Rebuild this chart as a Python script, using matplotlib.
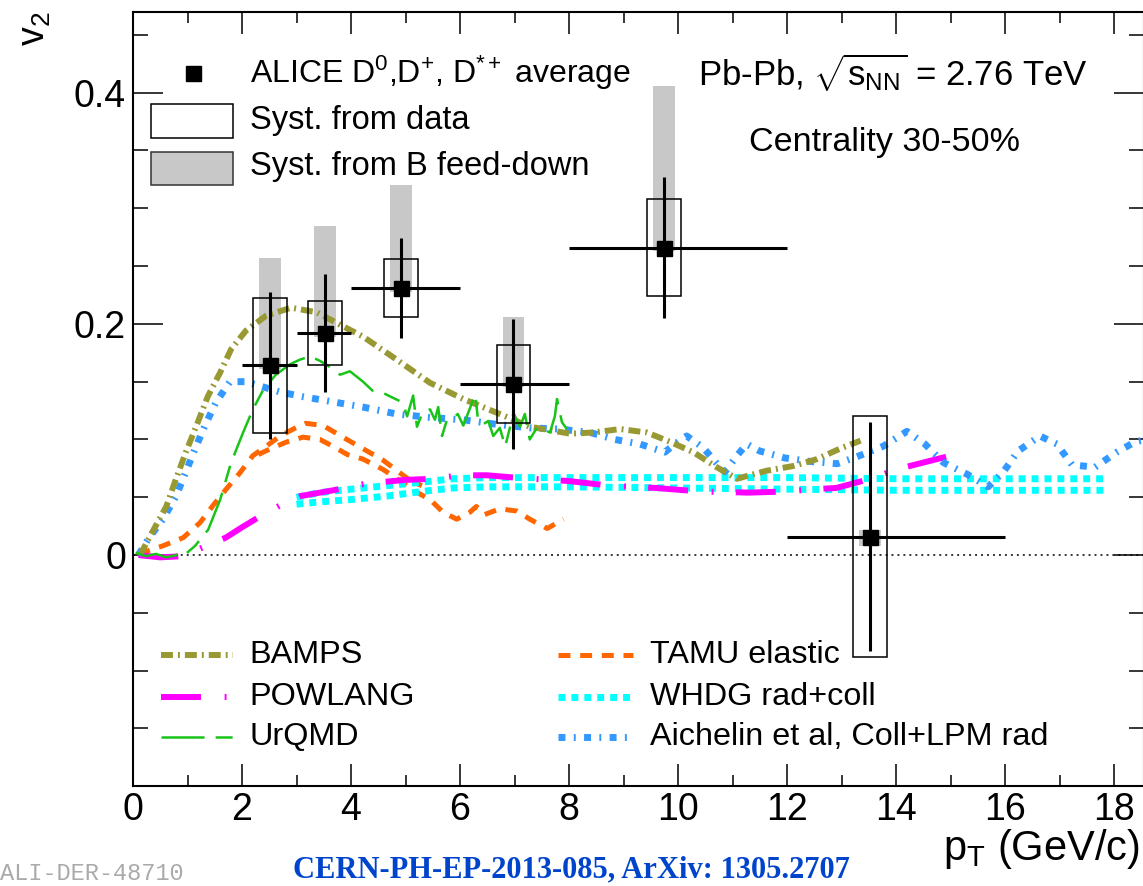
import matplotlib
matplotlib.use('Agg')
import matplotlib.pyplot as plt
from matplotlib.patches import Rectangle
from matplotlib.lines import Line2D
from matplotlib.ticker import MultipleLocator

plt.rcParams['font.family'] = ['Liberation Sans', 'DejaVu Sans']
plt.rcParams['mathtext.fontset'] = 'custom'
plt.rcParams['mathtext.rm'] = 'Liberation Sans'
plt.rcParams['mathtext.it'] = 'Liberation Sans'
plt.rcParams['mathtext.bf'] = 'Liberation Sans:bold'
plt.rcParams['lines.scale_dashes'] = False

# ---------------- data ----------------
pt = [2.51, 3.52, 4.92, 6.98, 9.74, 13.52]
pt_lo = [2, 3, 4, 6, 8, 12]
pt_hi = [3, 4, 6, 8, 12, 16]
v2 = [0.164, 0.192, 0.231, 0.148, 0.266, 0.016]
stat = [0.064, 0.051, 0.043, 0.056, 0.061, 0.099]
syst_data = [0.058, 0.028, 0.025, 0.034, 0.042, 0.104]
fd_up = [0.093, 0.093, 0.089, 0.058, 0.140, 0.006]
fd_lo = [0.003, 0.003, 0.003, 0.003, 0.003, 0.008]

bamps_pt = [0.13, 0.31, 0.61, 0.79, 0.97, 1.19, 1.37, 1.6, 1.8, 2.07, 2.44, 2.9, 3.37, 3.85,
            4.22, 4.84, 5.45, 6.06, 6.68, 7.28, 8.02, 8.44, 8.94, 9.43, 9.85, 10.28, 10.71,
            11.08, 11.63, 12.11, 12.55, 12.97, 13.35]
bamps_v2 = [0.0, 0.016, 0.042, 0.066, 0.089, 0.115, 0.137, 0.158, 0.178, 0.194, 0.207, 0.214,
            0.210, 0.198, 0.189, 0.169, 0.149, 0.135, 0.123, 0.111, 0.105, 0.106, 0.109, 0.106,
            0.098, 0.089, 0.076, 0.066, 0.073, 0.077, 0.083, 0.092, 0.099]

powlang_pt = [0.1, 0.5, 0.9, 1.3, 1.7, 2.0, 2.35, 2.74, 3.07, 3.67, 4.3, 5.0, 5.5, 6.0, 6.5,
              7.0, 8.0, 8.75, 9.6, 10.4, 11.3, 12.0, 12.5, 12.9, 13.3, 13.6, 14.0, 14.5, 14.92]
powlang_v2 = [0.0, -0.002, -0.001, 0.007, 0.015, 0.024, 0.034, 0.044, 0.051, 0.056, 0.062,
              0.065, 0.066, 0.069, 0.069, 0.067, 0.064, 0.060, 0.058, 0.055, 0.054, 0.055,
              0.057, 0.058, 0.063, 0.067, 0.074, 0.080, 0.085]

urqmd_pt = [0.05, 0.24, 0.42, 0.61, 0.8, 0.92, 1.14, 1.38, 1.6, 1.8, 2.02, 2.2, 2.39, 2.62,
            2.88, 3.06, 3.25, 3.43, 3.6, 3.8, 3.98, 4.22, 4.4, 4.6, 4.77, 4.95, 5.03, 5.14,
            5.21, 5.32, 5.45, 5.54, 5.6, 5.67, 5.76, 5.87, 5.96, 6.06, 6.15, 6.28, 6.33, 6.42,
            6.52, 6.61, 6.73, 6.83, 6.92, 6.98, 7.1, 7.19, 7.28, 7.41, 7.52, 7.65, 7.74, 7.78,
            7.87, 7.96]
urqmd_v2 = [0.002, -0.001, 0.001, -0.002, 0.0, -0.001, 0.008, 0.022, 0.048, 0.080, 0.106,
            0.126, 0.143, 0.156, 0.165, 0.169, 0.172, 0.168, 0.163, 0.156, 0.159, 0.150, 0.142,
            0.140, 0.136, 0.132, 0.120, 0.138, 0.111, 0.124, 0.126, 0.117, 0.128, 0.103, 0.117,
            0.119, 0.122, 0.112, 0.123, 0.139, 0.117, 0.113, 0.116, 0.103, 0.110, 0.094, 0.111,
            0.123, 0.111, 0.122, 0.100, 0.110, 0.109, 0.106, 0.120, 0.135, 0.115, 0.109]

tamu_hi_pt = [0.1, 0.55, 0.92, 1.23, 1.47, 1.71, 1.96, 2.2, 2.44, 2.7, 2.94, 3.17, 3.49, 3.85,
              4.22, 4.59, 4.9, 5.1, 5.3]
tamu_hi_v2 = [0.001, 0.008, 0.015, 0.028, 0.043, 0.057, 0.071, 0.086, 0.094, 0.103, 0.109,
              0.114, 0.112, 0.102, 0.092, 0.082, 0.071, 0.064, 0.060]
tamu_lo_pt = [2.3, 2.57, 2.83, 3.12, 3.43, 3.67, 3.93, 4.22, 4.59, 4.84, 5.14, 5.45, 5.69,
              5.94, 6.18, 6.3, 6.45, 6.73, 7.05, 7.28, 7.6, 7.9]
tamu_lo_v2 = [0.087, 0.093, 0.098, 0.102, 0.100, 0.094, 0.087, 0.083, 0.074, 0.066, 0.056,
              0.048, 0.037, 0.031, 0.037, 0.042, 0.035, 0.040, 0.038, 0.031, 0.023, 0.031]

whdg_pt = [3.0, 3.43, 4.0, 4.66, 5.3, 5.87, 6.5, 7.1, 8.0, 10.0, 12.0, 14.0, 16.0, 17.9]
whdg_hi_v2 = [0.050, 0.054, 0.057, 0.060, 0.063, 0.066, 0.067, 0.067, 0.067, 0.067, 0.067,
              0.066, 0.066, 0.066]
whdg_lo_v2 = [0.044, 0.046, 0.048, 0.051, 0.055, 0.058, 0.059, 0.059, 0.059, 0.058, 0.057,
              0.056, 0.056, 0.056]

aich_pt = [0.1, 0.28, 0.55, 0.79, 0.97, 1.14, 1.32, 1.52, 1.78, 2.07, 2.7, 3.12, 3.61, 4.22,
           4.84, 5.45, 6.06, 6.68, 7.28, 7.83, 8.39, 8.84, 9.3, 9.76, 9.94, 10.16, 10.46,
           10.77, 10.86, 11.1, 11.26, 11.5, 11.96, 12.42, 12.92, 13.28, 13.76, 14.2, 14.53,
           14.87, 15.3, 15.69, 15.97, 16.24, 16.64, 16.95, 17.23, 17.65, 18.05, 18.39, 18.6]
aich_v2 = [0.0, 0.014, 0.031, 0.051, 0.072, 0.092, 0.112, 0.132, 0.150, 0.150, 0.141, 0.137,
           0.133, 0.128, 0.122, 0.119, 0.117, 0.113, 0.110, 0.109, 0.106, 0.100, 0.096, 0.089,
           0.096, 0.103, 0.093, 0.076, 0.072, 0.087, 0.096, 0.090, 0.084, 0.081, 0.079, 0.085,
           0.094, 0.107, 0.096, 0.080, 0.070, 0.059, 0.072, 0.090, 0.103, 0.096, 0.078, 0.076,
           0.089, 0.098, 0.100]

model_labels = ['BAMPS', 'POWLANG', 'UrQMD', 'TAMU elastic', 'WHDG rad+coll',
                'Aichelin et al, Coll+LPM rad']
x_ticks = [0, 2, 4, 6, 8, 10, 12, 14, 16, 18]
y_ticks = [0, 0.2, 0.4]

# ---------------- styles ----------------
C_BAMPS, C_POW, C_URQ = '#999933', '#ff00ff', '#19c419'
C_TAMU, C_WHDG, C_AICH = '#ff6600', '#00ffff', '#3399ff'
C_GREY = '#c8c8c8'

sty = {
    'BAMPS': dict(color=C_BAMPS, lw=4.3, dashes=[8.6, 3.6, 1.4, 3.6]),
    'POWLANG': dict(color=C_POW, lw=4.3, dashes=[28.8, 17.0, 1.4, 16.0]),
    'UrQMD': dict(color=C_URQ, lw=1.8, dashes=[31, 8, 12.2, 8]),
    'TAMU elastic': dict(color=C_TAMU, lw=3.6, dashes=[8.6, 7.0]),
    'WHDG rad+coll': dict(color=C_WHDG, lw=5.0, dashes=[5.0, 4.3]),
    'Aichelin et al, Coll+LPM rad': dict(color=C_AICH, lw=5.0, dashes=[5.0, 6.0, 1.4, 6.0]),
}

W, H = 1143, 886
fig = plt.figure(figsize=(W / 100, H / 100), dpi=100)


def fx(x):
    return x / W


def fy(y):
    return 1 - y / H


ax = fig.add_axes([133 / W, 1 - 786.2 / H, (1144 - 133) / W, (786.2 - 11.8) / H])
ax.set_xlim(0, 18.55)
ax.set_ylim(-0.2, 0.47)

# grey feed-down boxes
for p, v, up, lo in zip(pt, v2, fd_up, fd_lo):
    ax.add_patch(Rectangle((p - 0.2, v - lo), 0.4, up + lo, facecolor=C_GREY,
                           edgecolor='none', zorder=1))

# zero line
ax.axhline(0, color='k', lw=1.1, linestyle=(0, (1.4, 2.9)), zorder=1.5)

# models
ax.plot(tamu_hi_pt, tamu_hi_v2, zorder=2, **sty['TAMU elastic'])
ax.plot(tamu_lo_pt, tamu_lo_v2, zorder=2, **sty['TAMU elastic'])
ax.plot(whdg_pt, whdg_hi_v2, zorder=2, **sty['WHDG rad+coll'])
ax.plot(whdg_pt, whdg_lo_v2, zorder=2, **sty['WHDG rad+coll'])
ax.plot(powlang_pt, powlang_v2, zorder=2.1, **sty['POWLANG'])
ax.plot(aich_pt, aich_v2, zorder=2.2, **sty['Aichelin et al, Coll+LPM rad'])
ax.plot(bamps_pt, bamps_v2, zorder=2.3, **sty['BAMPS'])
ax.plot(urqmd_pt, urqmd_v2, zorder=2.4, **sty['UrQMD'])

# data syst boxes
for p, v, s in zip(pt, v2, syst_data):
    ax.add_patch(Rectangle((p - 0.31, v - s), 0.62, 2 * s, facecolor='none',
                           edgecolor='k', lw=1.1, zorder=3))

xerr = [[p - l for p, l in zip(pt, pt_lo)], [h - p for p, h in zip(pt, pt_hi)]]
ax.errorbar(pt, v2, xerr=xerr, yerr=stat, fmt='s', color='k', ms=10.8, elinewidth=2.2,
            capsize=0, zorder=4)

# axes style
ax.set_xticks(x_ticks)
ax.set_xticklabels([str(t) for t in x_ticks])
ax.set_yticks(y_ticks)
ax.set_yticklabels(['0', '0.2', '0.4'])
ax.xaxis.set_minor_locator(MultipleLocator(1))
ax.yaxis.set_minor_locator(MultipleLocator(0.05))
ax.tick_params(axis='x', which='major', direction='in', length=16, width=1.1,
               top=True, labelsize=27, pad=4)
ax.tick_params(axis='x', which='minor', direction='in', length=8, width=1.1, top=True)
ax.tick_params(axis='y', which='major', direction='in', length=21.6, width=1.1,
               right=True, labelsize=27, pad=5)
ax.tick_params(axis='y', which='minor', direction='in', length=10.8, width=1.1, right=True)
for sp in ax.spines.values():
    sp.set_linewidth(1.5)

# axis titles
fig.text(fx(53), fy(12), r'v$_2$', rotation=90, ha='right', va='top', fontsize=27)
fig.text(fx(1140), fy(860), r'p$_{\rm T}$ (GeV/c)', ha='right', va='baseline', fontsize=30)

# top-left legend
fig.add_artist(Line2D([fx(193)], [fy(73)], marker='s', ms=10.8, color='k', lw=0))
fig.add_artist(Rectangle((fx(151), fy(138)), fx(233) - fx(151), fy(104) - fy(138),
                         facecolor='white', edgecolor='k', lw=1.1, transform=fig.transFigure))
fig.add_artist(Rectangle((fx(151), fy(185)), fx(233) - fx(151), fy(152) - fy(185),
                         facecolor=C_GREY, edgecolor='#333333', lw=1.1,
                         transform=fig.transFigure))
fig.text(fx(250), fy(73), r'ALICE D$^{0}$,D$^{+}$, D$^{*+}$ average', va='center', fontsize=23)
fig.text(fx(250), fy(121), 'Syst. from data', va='center', fontsize=23.5)
fig.text(fx(250), fy(167), 'Syst. from B feed-down', va='center', fontsize=23.5)

# system text
fig.text(fx(698), fy(73), r'Pb-Pb, $\sqrt{s_{\rm NN}}$ = 2.76 TeV', va='center', fontsize=25)
fig.text(fx(749), fy(143), 'Centrality 30-50%', va='center', fontsize=24.5)

# model legend
rows = [655, 697, 737]
cols = [(161, 233, 249), (558, 633, 650)]
for i, lab in enumerate(model_labels):
    c = cols[i // 3]
    y = rows[i % 3]
    fig.add_artist(Line2D([fx(c[0]), fx(c[1])], [fy(y), fy(y)], **sty[lab]))
    fig.text(fx(c[2]), fy(y), lab, va='center', fontsize=23.3)

# bottom annotations
fig.text(fx(0), fy(880), 'ALI-DER-48710', ha='left', va='baseline', fontsize=17,
         family='Liberation Mono', color='#aaaaaa')
fig.text(fx(293), fy(877), 'CERN-PH-EP-2013-085, ArXiv: 1305.2707', ha='left',
         va='baseline', fontsize=22, family='Liberation Serif', fontweight='bold',
         color='#0044cc')

fig.savefig('out.png', dpi=100)
